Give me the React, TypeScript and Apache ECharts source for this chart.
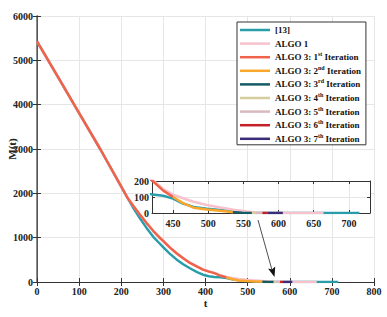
import React, { useEffect, useRef } from "react";
import * as echarts from "echarts";

const seriesNames = [
  "[13]",
  "ALGO 1",
  "ALGO 3: 1st Iteration",
  "ALGO 3: 2nd Iteration",
  "ALGO 3: 3rd Iteration",
  "ALGO 3: 4th Iteration",
  "ALGO 3: 5th Iteration",
  "ALGO 3: 6th Iteration",
  "ALGO 3: 7th Iteration",
];
const seriesColors = [
  "#2a9dab",
  "#f7c2cc",
  "#f0634b",
  "#f9a72b",
  "#145b66",
  "#d5cd9c",
  "#d8b9be",
  "#c3202a",
  "#3b2c78",
];

const ref13: number[][] = [
  [0, 5430], [50, 4620], [100, 3810], [150, 3000], [200, 2150], [215, 1895],
  [230, 1650], [244, 1440], [260, 1220], [276, 1020], [290, 880], [300, 780],
  [315, 640], [331, 510], [347, 400], [363, 310], [380, 225], [394, 165],
  [408, 128], [421, 115], [436, 108], [450, 90], [464, 59], [479, 38],
  [498, 27], [517, 19], [536, 11], [550, 5], [562, 1], [570, 0], [715, 0],
];
const algo1: number[][] = [
  [0, 5430], [50, 4620], [100, 3810], [150, 3000], [200, 2150], [215, 1900],
  [230, 1705], [244, 1525], [260, 1335], [276, 1155], [290, 1015], [300, 925],
  [315, 785], [331, 655], [347, 540], [363, 435], [380, 350], [394, 285],
  [408, 240], [421, 205], [436, 150], [450, 115], [464, 92], [479, 70],
  [498, 50], [517, 35], [536, 20], [555, 9], [570, 3], [585, 0], [664, 0],
];
const iter1: number[][] = [
  [0, 5430], [50, 4620], [100, 3810], [150, 3000], [200, 2150], [215, 1895],
  [230, 1700], [244, 1520], [260, 1330], [276, 1150], [290, 1010], [300, 920],
  [315, 780], [331, 650], [347, 535], [363, 430], [380, 345], [394, 280],
  [408, 235], [421, 200], [436, 140], [450, 100],
];
const iter2: number[][] = [
  [450, 100], [464, 62], [479, 33], [498, 22], [517, 14], [536, 4],
];
const iter3: number[][] = [[535, 4], [548, 2], [562, 0]];
const iter4: number[][] = [[562, 0], [568, 0]];
const iter5: number[][] = [[568, 0], [577, 0]];
const iter6: number[][] = [[577, 0], [584, 0]];
const iter7: number[][] = [[584, 0], [606, 0]];

const seriesData = [ref13, algo1, iter1, iter2, iter3, iter4, iter5, iter6, iter7];

const insetXLabels = [450, 500, 550, 600, 650, 700];

const FONT = "Liberation Serif, Times New Roman, serif";
const AXIS_COLOR = "#333";
const GRID_COLOR = "#e6e6e6";

export default function App() {
  const ref = useRef<HTMLDivElement>(null);
  useEffect(() => {
    if (!ref.current) return;
    const chart = echarts.init(ref.current, undefined, { renderer: "svg" });
    const labelStyle = { fontFamily: FONT, fontWeight: "bold" as const, color: "#222" };
    const plain = (v: number) => String(v);

    const mainSeries = seriesNames.map((name, i) => ({
      name,
      type: "line",
      xAxisIndex: 0,
      yAxisIndex: 0,
      data: seriesData[i],
      symbol: "none",
      clip: true,
      lineStyle: { color: seriesColors[i], width: 2.5 },
      itemStyle: { color: seriesColors[i] },
      z: 2 + i * 0.01,
    }));
    const insetSeries = seriesNames.map((name, i) => ({
      name,
      type: "line",
      xAxisIndex: 2,
      yAxisIndex: 2,
      data: seriesData[i],
      symbol: "none",
      clip: true,
      lineStyle: { color: seriesColors[i], width: 2.5 },
      itemStyle: { color: seriesColors[i] },
      z: 6 + i * 0.01,
    }));

    const option: any = {
      animation: false,
      backgroundColor: "#fff",
      grid: [
        { left: 37, right: 13, top: 16, bottom: 35, outerBoundsMode: "none", containLabel: false, show: true, backgroundColor: "#fff", borderWidth: 0, z: 0 },
        { left: 152, right: 17, top: 181, bottom: 104, outerBoundsMode: "none", containLabel: false, show: true, backgroundColor: "#fff", borderWidth: 0, z: 4 },
      ],
      xAxis: [
        {
          gridIndex: 0, type: "value", position: "bottom", min: 0, max: 800, interval: 100,
          name: "t", nameLocation: "middle", nameGap: 15, nameMoveOverlap: false,
          nameTextStyle: { ...labelStyle, fontSize: 11 },
          axisLine: { lineStyle: { color: AXIS_COLOR } },
          axisTick: { inside: true, length: 4, lineStyle: { color: AXIS_COLOR } },
          axisLabel: { ...labelStyle, fontSize: 10, margin: 4, formatter: plain },
          splitLine: { show: true, lineStyle: { color: GRID_COLOR } },
        },
        {
          gridIndex: 0, type: "value", position: "top", min: 0, max: 800, interval: 100,
          axisLine: { lineStyle: { color: AXIS_COLOR } },
          axisTick: { inside: true, length: 4, lineStyle: { color: AXIS_COLOR } },
          axisLabel: { show: false },
          splitLine: { show: false },
        },
        {
          gridIndex: 1, type: "value", position: "bottom", min: 420, max: 730, z: 5,
          axisLine: { onZero: false, lineStyle: { color: AXIS_COLOR } },
          axisTick: { inside: true, length: 3, customValues: insetXLabels, lineStyle: { color: AXIS_COLOR } },
          axisLabel: { ...labelStyle, fontSize: 10, margin: 5, customValues: insetXLabels, formatter: plain },
          splitLine: { show: true, lineStyle: { color: GRID_COLOR } },
        },
        {
          gridIndex: 1, type: "value", position: "top", min: 420, max: 730, z: 5,
          axisLine: { onZero: false, lineStyle: { color: AXIS_COLOR } },
          axisTick: { inside: true, length: 3, customValues: insetXLabels, lineStyle: { color: AXIS_COLOR } },
          axisLabel: { show: false },
          splitLine: { show: false },
        },
      ],
      yAxis: [
        {
          gridIndex: 0, type: "value", position: "left", min: 0, max: 6000, interval: 1000,
          name: "M(t)", nameLocation: "middle", nameGap: 20, nameMoveOverlap: false,
          nameTextStyle: { ...labelStyle, fontSize: 11 },
          axisLine: { show: true, lineStyle: { color: AXIS_COLOR } },
          axisTick: { show: true, inside: true, length: 4, lineStyle: { color: AXIS_COLOR } },
          axisLabel: { ...labelStyle, fontSize: 10, margin: 4, formatter: plain },
          splitLine: { show: true, lineStyle: { color: GRID_COLOR } },
        },
        {
          gridIndex: 0, type: "value", position: "right", min: 0, max: 6000, interval: 1000,
          axisLine: { show: true, lineStyle: { color: "#666", width: 1.5 } },
          axisTick: { show: true, inside: true, length: 4, lineStyle: { color: AXIS_COLOR } },
          axisLabel: { show: false },
          splitLine: { show: false },
        },
        {
          gridIndex: 1, type: "value", position: "left", min: 0, max: 200, interval: 100, z: 5,
          axisLine: { show: true, onZero: false, lineStyle: { color: AXIS_COLOR } },
          axisTick: { show: true, inside: true, length: 3, lineStyle: { color: AXIS_COLOR } },
          axisLabel: { ...labelStyle, fontSize: 10, margin: 3, formatter: plain },
          splitLine: { show: true, lineStyle: { color: GRID_COLOR } },
        },
        {
          gridIndex: 1, type: "value", position: "right", min: 0, max: 200, interval: 100, z: 5,
          axisLine: { show: true, onZero: false, lineStyle: { color: AXIS_COLOR } },
          axisTick: { show: true, inside: true, length: 3, lineStyle: { color: AXIS_COLOR } },
          axisLabel: { show: false },
          splitLine: { show: false },
        },
      ],
      legend: {
        data: seriesNames,
        orient: "vertical",
        left: 237,
        top: 22,
        z: 10,
        padding: [2, 5, 0, 3],
        itemGap: 1.6,
        itemWidth: 30,
        itemHeight: 2.5,
        icon: "rect",
        selectedMode: false,
        backgroundColor: "#fff",
        borderColor: "#333",
        borderWidth: 1,
        borderRadius: 0,
        formatter: (name: string) => {
          const m = name.match(/^(ALGO 3: \d)(st|nd|rd|th)( Iteration)$/);
          if (m) return `{a|${m[1]}}{s|${m[2]}}{a|${m[3]}}`;
          return `{a|${name}}`;
        },
        textStyle: {
          ...labelStyle,
          fontSize: 9,
          lineHeight: 12,
          rich: {
            a: { fontFamily: FONT, fontWeight: "bold", fontSize: 9, lineHeight: 12, color: "#111" },
            s: { fontFamily: FONT, fontWeight: "bold", fontSize: 6, lineHeight: 6, padding: [0, 0, 6, 0], color: "#111" },
          },
        },
      },
      graphic: [
        {
          type: "line",
          z: 20,
          shape: { x1: 258, y1: 220, x2: 272, y2: 270 },
          style: { stroke: "#222", lineWidth: 0.8 },
        },
        {
          type: "polygon",
          z: 20,
          shape: { points: [[274.5, 277], [275.2, 266.5], [272, 269.5], [268, 268.5]] },
          style: { fill: "#111" },
        },
      ],
      series: [...mainSeries, ...insetSeries],
    };
    chart.setOption(option);
    return () => chart.dispose();
  }, []);
  return <div ref={ref} style={{ width: 387, height: 317, position: "absolute", left: 0, top: 0 }} />;
}
